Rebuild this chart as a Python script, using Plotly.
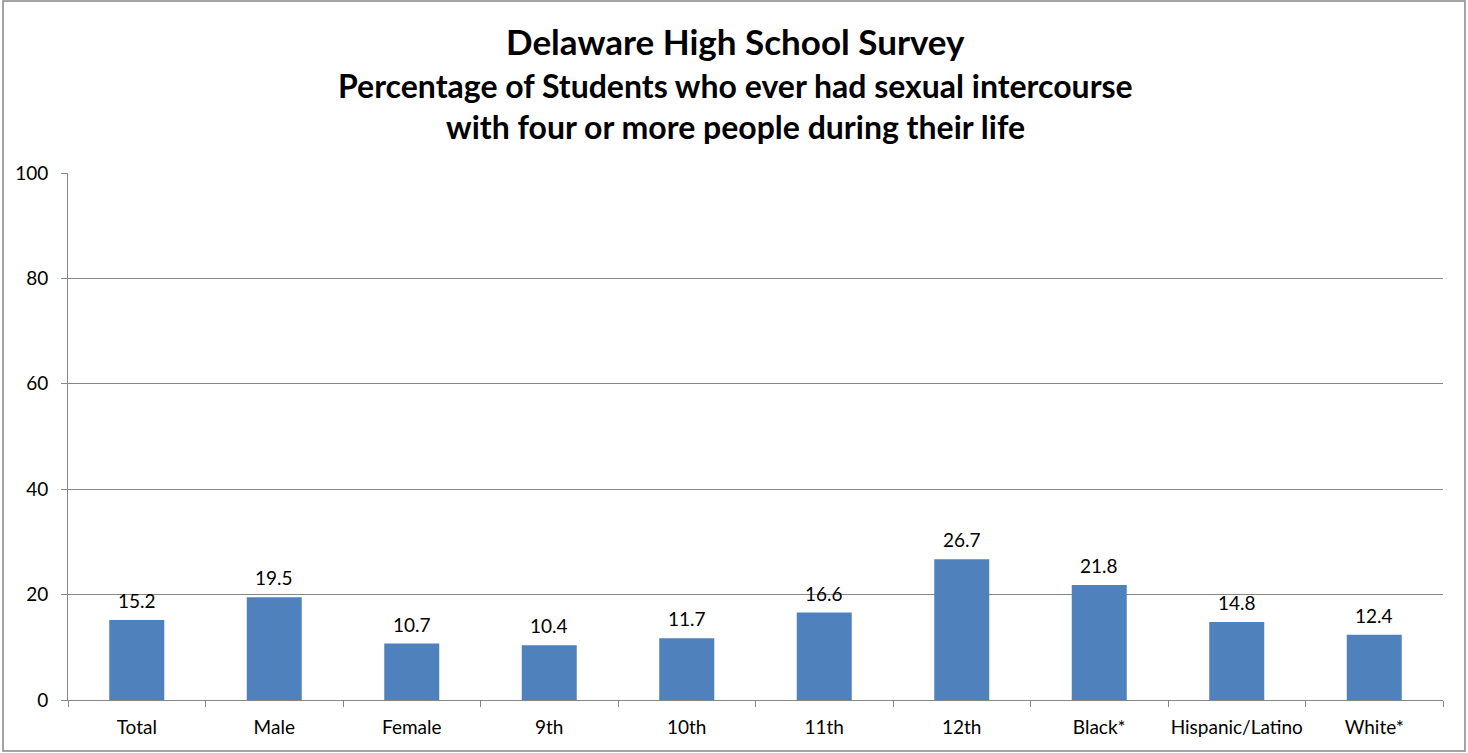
import plotly.graph_objects as go

categories = ["Total", "Male", "Female", "9th", "10th", "11th", "12th", "Black*", "Hispanic/Latino", "White*"]
values = [15.2, 19.5, 10.7, 10.4, 11.7, 16.6, 26.7, 21.8, 14.8, 12.4]
y_ticks = [0, 20, 40, 60, 80, 100]
title_lines = [
    "Delaware High School Survey",
    "Percentage of Students who ever had sexual intercourse",
    "with four or more people during their life",
]

FONT = "Lato, Carlito, Calibri, sans-serif"
W, H = 1468, 753
L, R, T, B = 68, 25, 173, 53
pw, ph = W - L - R, H - T - B

fig = go.Figure()
fig.add_trace(go.Bar(
    x=categories, y=values,
    marker=dict(color="#4F81BD", line=dict(width=0)),
    hoverinfo="x+y",
))

for c, v in zip(categories, values):
    fig.add_annotation(x=c, y=v, text=f"{v:.1f}", showarrow=False,
                       yanchor="bottom", yshift=6,
                       font=dict(family=FONT, size=19, color="#000"))

# title lines
for txt, py, sz in zip(title_lines, [41, 85, 127], [35, 32, 32]):
    fig.add_annotation(xref="paper", yref="paper",
                       x=(735 - L) / pw, y=(H - B - py) / ph,
                       xanchor="center", yanchor="middle",
                       text=f"<b>{txt}</b>", showarrow=False,
                       font=dict(family=FONT, size=sz, color="#000"))

fig.update_layout(
    width=W, height=H,
    margin=dict(l=L, r=R, t=T, b=B, autoexpand=False),
    paper_bgcolor="white", plot_bgcolor="white",
    bargap=0.6,
    showlegend=False,
    font=dict(family=FONT, size=19, color="#000"),
    xaxis=dict(
        type="category",
        showline=True, linecolor="#868686", linewidth=1,
        ticks="outside", ticklen=6, tickcolor="#868686",
        tickson="boundaries",
        tickangle=0, automargin=False,
        ticklabelstandoff=10,
        showgrid=False,
        tickfont=dict(family=FONT, size=19, color="#000"),
    ),
    yaxis=dict(
        range=[0, 100], tickvals=y_ticks,
        showline=True, linecolor="#868686", linewidth=1,
        ticks="outside", ticklen=6, tickcolor="#868686",
        automargin=False,
        ticklabelstandoff=9,
        showgrid=True, gridcolor="#868686", gridwidth=1,
        zeroline=False,
        tickfont=dict(family=FONT, size=19, color="#000"),
    ),
)

# outer chart border
fig.add_shape(type="rect", xref="paper", yref="paper",
              x0=(3 - L) / pw, x1=(1465 - L) / pw,
              y0=(H - B - 751) / ph, y1=(H - B - 1) / ph,
              line=dict(color="#868686", width=1.5), fillcolor="rgba(0,0,0,0)",
              layer="below")

fig.write_html("out.html", config={"displayModeBar": False},
               post_script="document.body.style.margin='0';")
